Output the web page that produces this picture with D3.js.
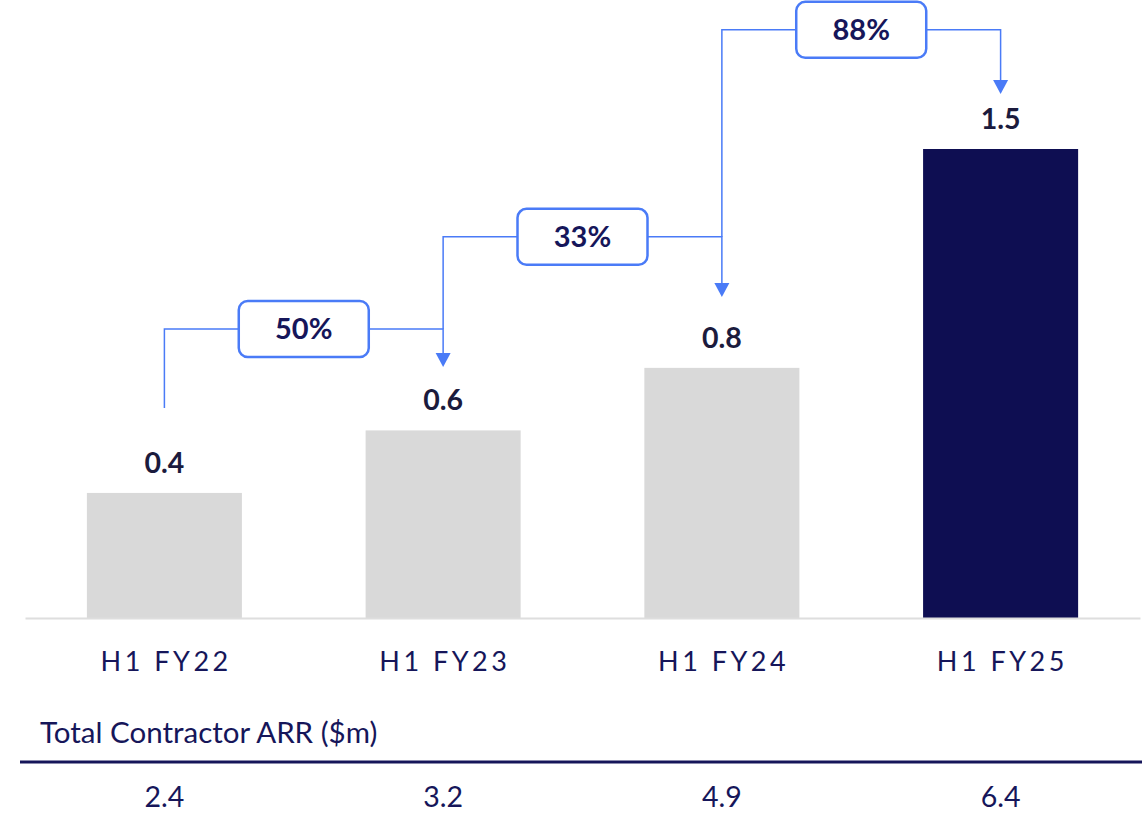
<!DOCTYPE html>
<html>
<head>
<meta charset="utf-8">
<script src="https://cdn.jsdelivr.net/npm/d3@7"></script>
<style>
  html, body { margin: 0; padding: 0; background: #ffffff; }
  svg { display: block; }
  text { font-family: Lato, "Open Sans", sans-serif; }
</style>
</head>
<body>
<svg id="chart" width="1145" height="825"></svg>
<script>
// Half-year periods
const periods = ["H1 FY22", "H1 FY23", "H1 FY24", "H1 FY25"];
// Bar values ($m)
const values = [0.4, 0.6, 0.8, 1.5];
// Total Contractor ARR ($m) row
const arrValues = [2.4, 3.2, 4.9, 6.4];
// Growth call-outs between periods
const growthFrom = [0, 1, 2];
const growthTo = [1, 2, 3];
const growthLabels = ["50%", "33%", "88%"];

// Connector routing, expressed in value units on the y scale
const connectorStart = [0.672, 0.924, 1.219];
const connectorLevel = [0.924, 1.219, 1.881];
const connectorEnd = [0.803, 1.027, 1.676];

const W = 1145, H = 825;
const baseY = 618;
const colors = {
  bar: "#d9d9d9",
  highlight: "#0e0e52",
  axis: "#dedede",
  link: "#4a7bf7",
  label: "#1b1b3d",
  text: "#16165a"
};

const svg = d3.select("#chart");

const x = d3.scaleBand()
  .domain(periods)
  .range([25, 1140])
  .paddingInner(0.4438)
  .paddingOuter(0.222);

const y = d3.scaleLinear()
  .domain([0, 1.5])
  .range([baseY, 149]);

// Bars
svg.append("g").selectAll("rect")
  .data(values)
  .join("rect")
  .attr("x", (d, i) => x(periods[i]))
  .attr("y", d => y(d))
  .attr("width", x.bandwidth())
  .attr("height", d => y(0) - y(d))
  .attr("fill", (d, i) => i === values.length - 1 ? colors.highlight : colors.bar);

// Baseline axis with spaced period labels
const tracking = 3.5;
const xAxis = d3.axisBottom(x).tickSize(0).tickPadding(32);
const gx = svg.append("g")
  .attr("transform", `translate(0,${baseY})`)
  .call(xAxis);
gx.select(".domain")
  .attr("stroke", colors.axis)
  .attr("stroke-width", 2);
gx.selectAll(".tick text")
  .attr("fill", colors.text)
  .attr("font-size", 27)
  .attr("letter-spacing", tracking + "px")
  .attr("font-family", "Lato, sans-serif")
  .attr("dy", null)
  .attr("dx", tracking / 2)
  .attr("y", 53);

// Value labels above bars
svg.append("g").selectAll("text")
  .data(values)
  .join("text")
  .attr("x", (d, i) => x(periods[i]) + x.bandwidth() / 2)
  .attr("y", d => y(d) - 20)
  .attr("text-anchor", "middle")
  .attr("font-size", 28.5)
  .attr("font-weight", 700)
  .attr("fill", colors.label)
  .text(d => d3.format(".1f")(d));

// Growth connectors
const cx = i => x(periods[i]) + x.bandwidth() / 2;
const links = svg.append("g");
growthLabels.forEach((lab, k) => {
  const a = cx(growthFrom[k]), b = cx(growthTo[k]);
  const yl = y(connectorLevel[k]);
  const tip = y(connectorEnd[k]);
  const head = 14;
  links.append("path")
    .attr("d", d3.line()([[a, y(connectorStart[k])], [a, yl], [b, yl], [b, tip - head]]))
    .attr("fill", "none")
    .attr("stroke", colors.link)
    .attr("stroke-width", 1.5);
  links.append("path")
    .attr("d", `M${b - 7.5},${tip - head}L${b + 7.5},${tip - head}L${b},${tip}Z`)
    .attr("fill", colors.link);
  const mx = (a + b) / 2, bw = 130, bh = 56;
  links.append("rect")
    .attr("x", mx - bw / 2)
    .attr("y", yl - bh / 2)
    .attr("width", bw)
    .attr("height", bh)
    .attr("rx", 9)
    .attr("fill", "#ffffff")
    .attr("stroke", colors.link)
    .attr("stroke-width", 2.5);
  links.append("text")
    .attr("x", mx)
    .attr("y", yl + 10)
    .attr("text-anchor", "middle")
    .attr("font-size", 29)
    .attr("font-weight", 700)
    .attr("fill", colors.text)
    .text(lab);
});

// ARR table row
svg.append("text")
  .attr("x", 40)
  .attr("y", 743)
  .attr("font-size", 29.5)
  .attr("fill", colors.text)
  .text("Total Contractor ARR ($m)");

svg.append("line")
  .attr("x1", 20).attr("x2", 1142)
  .attr("y1", 762).attr("y2", 762)
  .attr("stroke", colors.text)
  .attr("stroke-width", 3);

svg.append("g").selectAll("text")
  .data(arrValues)
  .join("text")
  .attr("x", (d, i) => cx(i))
  .attr("y", 807)
  .attr("text-anchor", "middle")
  .attr("font-size", 28.5)
  .attr("fill", colors.text)
  .text(d => d3.format(".1f")(d));
</script>
</body>
</html>
